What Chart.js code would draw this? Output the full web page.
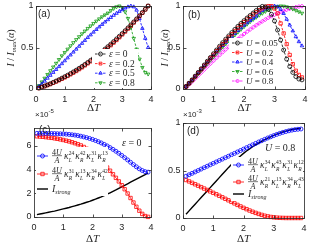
<!DOCTYPE html>
<html>
<head>
<meta charset="utf-8">
<script src="https://cdn.jsdelivr.net/npm/chart.js@4.4.0/dist/chart.umd.min.js"></script>
<style>
html, body { margin: 0; padding: 0; background: #fff; }
#wrap { position: relative; width: 320px; height: 244px; }
#wrap canvas { position: absolute; left: 0; top: 0; }
</style>
</head>
<body>
<div id="wrap">
  <canvas id="pa" width="320" height="244"></canvas>
  <canvas id="pb" width="320" height="244"></canvas>
  <canvas id="pc" width="320" height="244"></canvas>
  <canvas id="pd" width="320" height="244"></canvas>
</div>
<script>
// x values shared by every curve
const dT = [0.1,0.2,0.3,0.4,0.5,0.6,0.7,0.8,0.9,1.0,1.1,1.2,1.3,1.4,1.5,1.6,1.7,1.8,1.9,2.0,
            2.1,2.2,2.3,2.4,2.5,2.6,2.7,2.8,2.9,3.0,3.1,3.2,3.3,3.4,3.5,3.6,3.7,3.8,3.9];
const xTicks = [0, 1, 2, 3, 4];
const yTicksAB = [0, 0.5, 1];
const yTicksC = [0, 2, 4, 6];
const yTicksD = [0, 0.5, 1];
const epsLabels = ['0', '0.2', '0.5', '0.8'];
const uLabels = ['0.05', '0.2', '0.4', '0.6', '0.8'];

// panel (a): I/Imax for different epsilon
const aEps0 = [0.012,0.024,0.036,0.050,0.064,0.080,0.096,0.112,0.130,0.148,0.166,0.186,0.206,0.227,0.249,0.272,0.296,0.320,0.345,0.370,
               0.397,0.424,0.452,0.481,0.510,0.540,0.571,0.603,0.635,0.668,0.702,0.737,0.772,0.808,0.845,0.883,0.921,0.960,1.000];
const aEps02 = [0.010,0.021,0.033,0.046,0.059,0.074,0.089,0.105,0.122,0.139,0.157,0.176,0.196,0.216,0.238,0.260,0.284,0.308,0.332,0.358,
                0.384,0.411,0.439,0.468,0.497,0.527,0.558,0.590,0.623,0.657,0.691,0.727,0.763,0.800,0.838,0.877,0.917,0.958,1.000];
const aEps05 = [0.030,0.060,0.095,0.130,0.165,0.200,0.235,0.270,0.305,0.340,0.375,0.410,0.445,0.480,0.515,0.550,0.585,0.620,0.652,0.685,
                0.717,0.748,0.778,0.807,0.835,0.862,0.888,0.912,0.935,0.955,0.975,0.990,1.000,0.990,0.950,0.850,0.730,0.610,0.500];
const aEps08 = [0.040,0.085,0.130,0.175,0.220,0.265,0.310,0.355,0.400,0.440,0.480,0.520,0.558,0.595,0.630,0.665,0.698,0.730,0.760,0.790,
                0.818,0.845,0.870,0.893,0.915,0.945,0.970,0.990,1.000,0.980,0.930,0.850,0.740,0.610,0.480,0.360,0.260,0.200,0.180];

// panel (b): I/Imax for different U
const bU005 = [0.030,0.070,0.110,0.155,0.200,0.245,0.290,0.335,0.380,0.425,0.470,0.515,0.558,0.600,0.640,0.680,0.718,0.755,0.790,0.823,
               0.855,0.885,0.915,0.945,0.975,0.995,0.990,0.960,0.900,0.820,0.710,0.590,0.470,0.360,0.270,0.200,0.150,0.120,0.110];
const bU02 = [0.030,0.068,0.107,0.150,0.194,0.238,0.282,0.326,0.370,0.413,0.456,0.499,0.541,0.582,0.622,0.661,0.699,0.736,0.771,0.805,
              0.838,0.869,0.898,0.925,0.950,0.972,0.989,0.998,0.998,0.970,0.910,0.790,0.670,0.540,0.410,0.300,0.220,0.170,0.140];
const bU04 = [0.030,0.070,0.110,0.152,0.195,0.238,0.280,0.322,0.364,0.405,0.445,0.485,0.524,0.562,0.599,0.635,0.670,0.704,0.736,0.767,
              0.797,0.825,0.852,0.877,0.920,0.945,0.965,0.980,0.990,1.000,0.990,0.960,0.910,0.840,0.770,0.700,0.630,0.570,0.520];
const bU06 = [0.025,0.063,0.102,0.142,0.183,0.224,0.265,0.306,0.347,0.387,0.427,0.466,0.505,0.543,0.580,0.616,0.651,0.685,0.718,0.750,
              0.781,0.810,0.838,0.864,0.889,0.912,0.934,0.954,0.971,0.985,0.995,1.000,0.998,0.990,0.978,0.963,0.947,0.930,0.913];
const bU08 = [0.020,0.055,0.090,0.126,0.162,0.198,0.234,0.270,0.305,0.340,0.375,0.409,0.443,0.476,0.509,0.541,0.572,0.603,0.633,0.662,
              0.690,0.717,0.743,0.768,0.792,0.815,0.837,0.858,0.877,0.895,0.912,0.928,0.942,0.955,0.967,0.977,0.986,0.993,0.998];

// panel (c), eps = 0, values x 1e-5
const cBlue = [7.05,7.05,7.05,7.05,7.04,7.04,7.03,7.02,7.01,7.00,6.98,6.96,6.93,6.90,6.86,6.81,6.75,6.69,6.62,6.54,
               6.45,6.35,6.24,6.12,5.99,5.85,5.70,5.54,5.37,5.19,5.00,4.81,4.61,4.42,4.23,4.06,3.92,3.82,3.78];
const cRed = [6.80,6.78,6.76,6.73,6.70,6.67,6.63,6.59,6.54,6.49,6.43,6.37,6.30,6.22,6.13,6.03,5.90,5.75,5.58,5.39,
              5.18,4.95,4.70,4.44,4.17,3.90,3.60,3.30,3.00,2.68,2.34,1.98,1.60,1.22,0.86,0.53,0.26,0.08,0.01];
const cStrong = [0.20,0.25,0.30,0.35,0.40,0.45,0.50,0.56,0.62,0.68,0.74,0.80,0.87,0.94,1.01,1.08,1.16,1.24,1.32,1.41,
                 1.50,1.60,1.70,1.81,1.92,2.04,2.16,2.28,2.41,2.54,2.67,2.80,2.93,3.06,3.19,3.32,3.45,3.58,3.72];

// panel (d), U = 0.8, values x 1e-3
const dBlue = [0.440,0.455,0.470,0.485,0.500,0.515,0.530,0.545,0.560,0.575,0.590,0.605,0.620,0.635,0.650,0.665,0.680,0.695,0.710,0.725,
               0.740,0.755,0.770,0.785,0.800,0.814,0.828,0.842,0.855,0.868,0.880,0.891,0.901,0.910,0.918,0.925,0.930,0.934,0.937];
const dRed = [0.400,0.385,0.370,0.355,0.340,0.325,0.310,0.295,0.280,0.265,0.250,0.234,0.218,0.202,0.186,0.170,0.154,0.138,0.122,0.107,
              0.093,0.079,0.066,0.054,0.043,0.033,0.024,0.017,0.011,0.007,0.004,0.002,0.001,0.000,0.000,0.000,0.000,0.000,0.000];
const dStrong = [0.040,0.075,0.110,0.145,0.180,0.215,0.250,0.285,0.320,0.355,0.390,0.425,0.460,0.495,0.530,0.563,0.595,0.625,0.653,0.680,
                 0.705,0.728,0.750,0.770,0.789,0.807,0.824,0.840,0.855,0.869,0.882,0.894,0.905,0.915,0.924,0.931,0.937,0.941,0.944];

const INK = '#262626';
const SANS = '"Liberation Sans", Arial, sans-serif';
const SERIF = '"Liberation Serif", "Times New Roman", serif';
const it = s => 'italic ' + s + 'px ' + SERIF;
const rm = s => s + 'px ' + SERIF;
const BLACK = '#000000', RED = '#ff0000', BLUE = '#0000ff', GREEN = '#0f9a0f', MAGENTA = '#ff00ff';

function series(vals, color, style, extra) {
    return Object.assign({
        data: dT.map((x, i) => ({ x: x, y: vals[i] })),
        borderColor: color,
        pointBorderColor: color,
        pointBackgroundColor: 'rgba(0,0,0,0)',
        pointStyle: style,
        pointRadius: 2,
        pointBorderWidth: 0.8,
        borderWidth: 0.8,
        borderDash: [2.5, 1.5],
        tension: 0,
        clip: false,
    }, extra || {});
}

// draw a row of text pieces: [text, font, dy]
function rich(ctx, x, y, parts, align) {
    let w = 0;
    parts.forEach(p => { ctx.font = p[1]; w += ctx.measureText(p[0]).width; });
    let cx = align === 'center' ? x - w / 2 : (align === 'right' ? x - w : x);
    ctx.textAlign = 'left';
    ctx.textBaseline = 'alphabetic';
    parts.forEach(p => {
        ctx.font = p[1];
        ctx.fillText(p[0], cx, y + (p[2] || 0));
        cx += ctx.measureText(p[0]).width;
    });
    return w;
}

// box, inward ticks on all four sides and the tick labels (matlab look)
function frame(chart) {
    const ctx = chart.ctx, a = chart.chartArea;
    const xs = chart.scales.x, ys = chart.scales.y;
    const l = Math.round(a.left) + 0.5, r = Math.round(a.right) + 0.5;
    const t = Math.round(a.top) + 0.5, b = Math.round(a.bottom) + 0.5;
    ctx.save();
    ctx.strokeStyle = INK;
    ctx.lineWidth = 0.8;
    ctx.strokeRect(l, t, r - l, b - t);
    ctx.beginPath();
    xs.ticks.forEach(tk => {
        const px = Math.round(xs.getPixelForValue(tk.value)) + 0.5;
        ctx.moveTo(px, b); ctx.lineTo(px, b - 3);
        ctx.moveTo(px, t); ctx.lineTo(px, t + 3);
    });
    ys.ticks.forEach(tk => {
        const py = Math.round(ys.getPixelForValue(tk.value)) + 0.5;
        ctx.moveTo(l, py); ctx.lineTo(l + 3, py);
        ctx.moveTo(r, py); ctx.lineTo(r - 3, py);
    });
    ctx.stroke();
    ctx.fillStyle = INK;
    ctx.font = '9px ' + SANS;
    ctx.textBaseline = 'middle';
    ctx.textAlign = 'center';
    xs.ticks.forEach(tk => ctx.fillText(String(tk.value), xs.getPixelForValue(tk.value), b + 10));
    ctx.textAlign = 'right';
    ys.ticks.forEach(tk => ctx.fillText(String(tk.value), l - 3, ys.getPixelForValue(tk.value)));
    ctx.restore();
}

function sample(ctx, x0, x1, y, color, style, rot, dash, radius) {
    ctx.save();
    ctx.strokeStyle = color;
    ctx.lineWidth = 0.8;
    ctx.setLineDash(dash);
    ctx.beginPath(); ctx.moveTo(x0, y); ctx.lineTo(x1, y); ctx.stroke();
    ctx.setLineDash([]);
    if (style) {
        ctx.fillStyle = 'rgba(0,0,0,0)';
        Chart.helpers.drawPoint(ctx, { pointStyle: style, radius: radius || 2, rotation: rot || 0, borderWidth: 0.8 }, (x0 + x1) / 2, y);
    }
    ctx.restore();
}

function deltaT(ctx, chart, y) {
    const a = chart.chartArea;
    ctx.fillStyle = INK;
    rich(ctx, (a.left + a.right) / 2, y, [['\u0394', rm(11)], ['T', it(11)]], 'center');
}

function yTitle(ctx, x, y) {
    ctx.save();
    ctx.translate(x, y);
    ctx.rotate(-Math.PI / 2);
    ctx.fillStyle = INK;
    rich(ctx, 0, 4, [['I', it(10)], [' / ', rm(10)], ['I', it(10)], ['max', it(6.5), 2], ['(', rm(10)], ['\u03b1', it(10)], [')', rm(10)]], 'center');
    ctx.restore();
}

// kappa product with super/subscripts
function kappas(ctx, x, y, terms) {
    let cx = x;
    terms.forEach(tm => {
        ctx.font = it(9.5);
        ctx.fillText('\u03ba', cx, y + 2);
        cx += ctx.measureText('\u03ba').width + 0.3;
        ctx.font = rm(5.5);
        const w1 = ctx.measureText(tm[0]).width;
        ctx.fillText(tm[0], cx, y - 2);
        ctx.font = it(5.5);
        const w2 = ctx.measureText(tm[1]).width;
        ctx.fillText(tm[1], cx, y + 4.5);
        cx += Math.max(w1, w2) + 0.8;
    });
}

function fracEntry(ctx, x, y, terms) {
    ctx.fillStyle = INK;
    rich(ctx, x + 5, y - 1.5, [['4', rm(8)], ['U', it(8)]], 'center');
    ctx.fillRect(x, y - 0.5, 10, 0.6);
    rich(ctx, x + 5, y + 7, [['A', it(8)]], 'center');
    kappas(ctx, x + 12, y + 1, terms);
}

function makeChart(id, box, yMax, yTicks, datasets, decorate) {
    return new Chart(document.getElementById(id), {
        type: 'line',
        data: { datasets: datasets },
        options: {
            responsive: false,
            animation: false,
            devicePixelRatio: 1,
            layout: {
                autoPadding: false,
                padding: { left: box.l - 20, right: 320 - box.r, top: box.t, bottom: 244 - box.b - 20 },
            },
            plugins: { legend: { display: false }, tooltip: { enabled: false } },
            scales: {
                x: {
                    type: 'linear', min: 0, max: 4,
                    grid: { display: false }, border: { display: false },
                    afterBuildTicks: s => { s.ticks = xTicks.map(v => ({ value: v })); },
                    afterFit: s => { s.height = 20; },
                    ticks: { display: false },
                },
                y: {
                    type: 'linear', min: 0, max: yMax,
                    grid: { display: false }, border: { display: false },
                    afterBuildTicks: s => { s.ticks = yTicks.map(v => ({ value: v })); },
                    afterFit: s => { s.width = 20; },
                    ticks: { display: false },
                },
            },
        },
        plugins: [{
            id: 'decor',
            afterDatasetsDraw(chart) {
                frame(chart);
                decorate(chart.ctx, chart);
            },
        }],
    });
}

// ---------- panel (a)
const aSets = [
    series(aEps0, BLACK, 'circle'),
    series(aEps02, RED, 'rect', { pointRadius: 2.3 }),
    series(aEps05, BLUE, 'triangle'),
    series(aEps08, GREEN, 'triangle', { pointRotation: 180 }),
];
makeChart('pa', { l: 36, r: 151, t: 6, b: 89 }, 1, yTicksAB, aSets, (ctx, chart) => {
    ctx.fillStyle = '#fff';
    ctx.fillRect(92, 49, 46, 39);
    const styles = [['circle', 0, BLACK], ['rect', 0, RED], ['triangle', 0, BLUE], ['triangle', 180, GREEN]];
    epsLabels.forEach((lab, i) => {
        const y = 54 + i * 9.6;
        sample(ctx, 95, 106, y, styles[i][2], styles[i][0], styles[i][1], [2.5, 1.5]);
        ctx.fillStyle = INK;
        rich(ctx, 109, y + 3, [['\u03b5', it(9.5)], [' = ' + lab, rm(9.5)]]);
    });
    ctx.fillStyle = INK;
    ctx.font = '10px ' + SANS;
    ctx.fillText('(a)', 38, 17);
    deltaT(ctx, chart, 111);
    yTitle(ctx, 10, 48);
});

// ---------- panel (b)
const bSets = [
    series(bU005, BLACK, 'circle'),
    series(bU02, RED, 'rect', { pointRadius: 2.3 }),
    series(bU04, BLUE, 'triangle'),
    series(bU06, GREEN, 'triangle', { pointRotation: 180 }),
    series(bU08, MAGENTA, 'rectRot'),
];
makeChart('pb', { l: 183, r: 305, t: 6, b: 89 }, 1, yTicksAB, bSets, (ctx, chart) => {
    ctx.fillStyle = '#fff';
    ctx.fillRect(229, 38, 48, 48);
    const styles = [['circle', 0, BLACK], ['rect', 0, RED], ['triangle', 0, BLUE], ['triangle', 180, GREEN], ['rectRot', 0, MAGENTA]];
    uLabels.forEach((lab, i) => {
        const y = 43 + i * 9.5;
        sample(ctx, 232, 243, y, styles[i][2], styles[i][0], styles[i][1], [2.5, 1.5]);
        ctx.fillStyle = INK;
        rich(ctx, 246, y + 3, [['U', it(9)], [' = ' + lab, rm(9)]]);
    });
    ctx.fillStyle = INK;
    ctx.font = '10px ' + SANS;
    ctx.fillText('(b)', 188, 18);
    deltaT(ctx, chart, 111);
    yTitle(ctx, 164, 48);
});

// ---------- panel (c)
const cSets = [
    series(cBlue, BLUE, 'circle', { borderDash: [] }),
    series(cRed, RED, 'rect', { borderDash: [], pointRadius: 2.4 }),
    series(cStrong, BLACK, 'circle', { borderDash: [], pointRadius: 0, borderWidth: 1.4 }),
];
makeChart('pc', { l: 34, r: 151, t: 128, b: 217 }, 7.5, yTicksC, cSets, (ctx, chart) => {
    ctx.fillStyle = '#fff';
    ctx.fillRect(36, 147, 72, 49);
    sample(ctx, 37, 48, 156, BLUE, 'circle', 0, []);
    fracEntry(ctx, 52, 156, [['24', 'L'], ['42', 'R'], ['31', 'L'], ['13', 'R']]);
    sample(ctx, 37, 48, 174, RED, 'rect', 0, [], 2.4);
    fracEntry(ctx, 52, 174, [['31', 'R'], ['13', 'L'], ['34', 'R'], ['42', 'L']]);
    ctx.save(); ctx.lineWidth = 1.4; ctx.strokeStyle = BLACK;
    ctx.beginPath(); ctx.moveTo(37, 189); ctx.lineTo(48, 189); ctx.stroke(); ctx.restore();
    ctx.fillStyle = INK;
    rich(ctx, 52, 192, [['I', it(10)], ['strong', it(6), 2]]);
    rich(ctx, 122, 146, [['\u03b5', it(10)], [' = 0', rm(10)]]);
    ctx.font = '10px ' + SANS;
    ctx.fillText('(c)', 39, 133);
    rich(ctx, 35, 117, [['\u00d710', '8px ' + SANS], ['-5', '6px ' + SANS, -4]]);
    deltaT(ctx, chart, 242);
});

// ---------- panel (d)
const dSets = [
    series(dBlue, BLUE, 'circle', { borderDash: [] }),
    series(dRed, RED, 'rect', { borderDash: [], pointRadius: 2.4 }),
    series(dStrong, BLACK, 'circle', { borderDash: [], pointRadius: 0, borderWidth: 1.4 }),
];
makeChart('pd', { l: 183, r: 304, t: 123, b: 218 }, 1, yTicksD, dSets, (ctx, chart) => {
    ctx.fillStyle = '#fff';
    ctx.fillRect(231, 157, 72, 44);
    sample(ctx, 233, 244, 165, BLUE, 'circle', 0, []);
    fracEntry(ctx, 248, 165, [['34', 'L'], ['43', 'R'], ['31', 'L'], ['12', 'R']]);
    sample(ctx, 233, 244, 182, RED, 'rect', 0, [], 2.4);
    fracEntry(ctx, 248, 182, [['21', 'R'], ['13', 'L'], ['34', 'R'], ['43', 'L']]);
    ctx.save(); ctx.lineWidth = 1.4; ctx.strokeStyle = BLACK;
    ctx.beginPath(); ctx.moveTo(233, 194); ctx.lineTo(244, 194); ctx.stroke(); ctx.restore();
    ctx.fillStyle = INK;
    rich(ctx, 248, 197, [['I', it(10)], ['strong', it(6), 2]]);
    rich(ctx, 265, 151, [['U', it(10)], [' = 0.8', rm(10)]]);
    ctx.font = '10px ' + SANS;
    ctx.fillText('(d)', 187, 134);
    rich(ctx, 183, 117, [['\u00d710', '8px ' + SANS], ['-3', '6px ' + SANS, -4]]);
    deltaT(ctx, chart, 242);
});
</script>
</body>
</html>
